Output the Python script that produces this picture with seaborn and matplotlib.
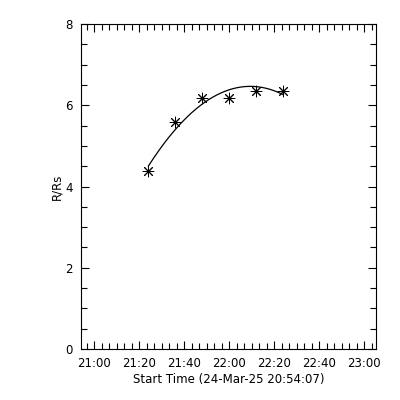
import numpy as np
import pandas as pd
import matplotlib
matplotlib.use("Agg")
import matplotlib.pyplot as plt
import seaborn as sns

# Данные: время кадров и высота фронта (R/Rs)
start_time = "2025-03-24 20:54:07"
obs_times = ["21:24:05", "21:36:05", "21:48:05", "22:00:05", "22:12:05", "22:24:05"]
heights = [4.37, 5.58, 6.17, 6.19, 6.36, 6.36]
tick_labels = ["21:00", "21:20", "21:40", "22:00", "22:20", "22:40", "23:00"]
x_label = "Start Time (24-Mar-25 20:54:07)"
y_label = "R/Rs"

t0 = pd.Timestamp(start_time)


def minutes_since_start(hhmm):
    ts = pd.Timestamp("2025-03-24 " + hhmm)
    return (ts - t0).total_seconds() / 60.0


df = pd.DataFrame({
    "t": [minutes_since_start(s) for s in obs_times],
    "r": heights,
})

# Квадратичная аппроксимация по точкам
coef = np.polyfit(df["t"], df["r"], 2)
t_fit = np.linspace(df["t"].min(), df["t"].max(), 200)
fit = pd.DataFrame({"t": t_fit, "r": np.polyval(coef, t_fit)})

sns.set_style("white")
plt.rcParams["font.family"] = ["DejaVu Sans"]

fig = plt.figure(figsize=(4, 4), dpi=100)
ax = fig.add_axes([0.202, 0.1275, 0.7375, 0.8125])

sns.lineplot(data=fit, x="t", y="r", ax=ax, color="black", linewidth=0.9)
sns.scatterplot(data=df, x="t", y="r", ax=ax, marker=(8, 2, 0), s=60,
                color="black", linewidth=0.7, zorder=3)

ax.set_xlim(0, 131)
ax.set_ylim(0, 8)

major_x = [minutes_since_start(s + ":00") for s in tick_labels]
minor_x = np.arange(major_x[0] - 10 / 3, 131, 10 / 3)
ax.set_xticks(major_x)
ax.set_xticklabels(tick_labels)
ax.set_xticks(minor_x, minor=True)
ax.set_yticks([0, 2, 4, 6, 8])
ax.set_yticklabels(["0", "2", "4", "6", "8"])
ax.set_yticks(np.arange(0, 8.01, 0.5), minor=True)

ax.tick_params(which="both", direction="in", top=True, right=True,
               bottom=True, left=True, color="black", width=0.8,
               labelsize=8.5, labelcolor="black")
ax.tick_params(axis="x", which="both", pad=6)
ax.tick_params(axis="y", which="both", pad=6)
ax.tick_params(which="major", length=6)
ax.tick_params(which="minor", length=4)

for sp in ax.spines.values():
    sp.set_color("black")
    sp.set_linewidth(0.8)

ax.set_xlabel(x_label, fontsize=8.5, color="black", labelpad=2)
ax.set_ylabel(y_label, fontsize=8.5, color="black", labelpad=1)

fig.savefig("out.png", dpi=100, facecolor="white")
